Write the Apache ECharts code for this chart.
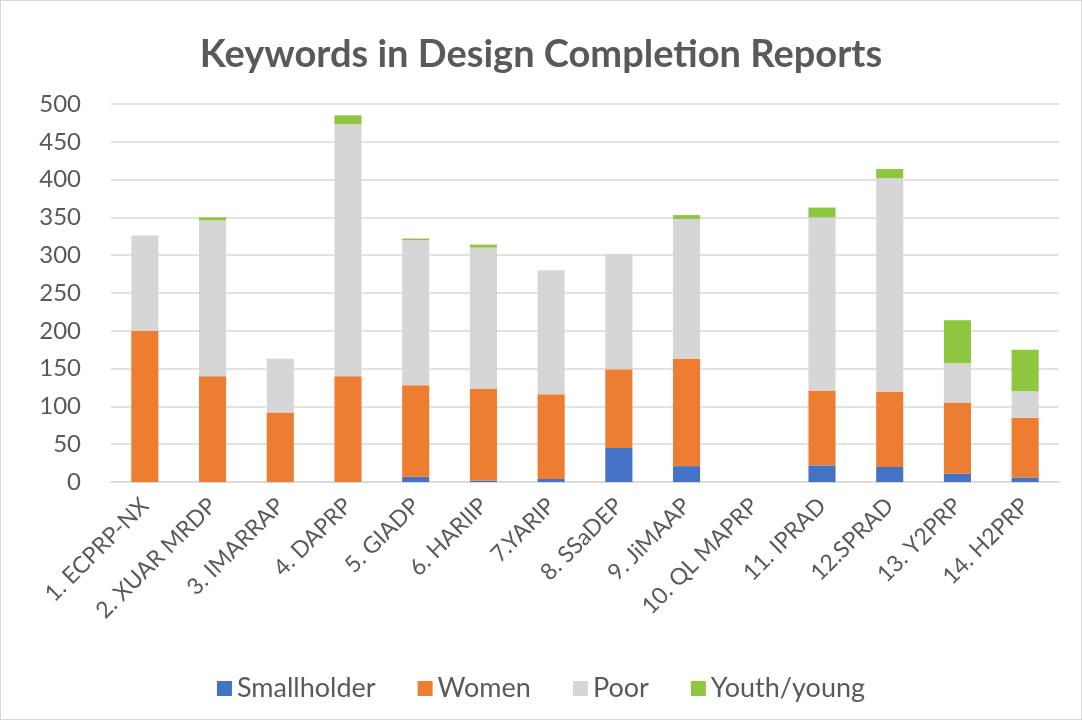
<!DOCTYPE html>
<html>
<head>
<meta charset="utf-8">
<script src="https://cdn.jsdelivr.net/npm/echarts@6/dist/echarts.min.js"></script>
<style>
  html, body { margin: 0; padding: 0; background: #fff; }
  #chart { width: 1080px; height: 718px; border: 1px solid #d9d9d9; }
</style>
</head>
<body>
<div id="chart"></div>
<script>
// project names
const categories = ['1. ECPRP-NX', '2. XUAR MRDP', '3. IMARRAP', '4. DAPRP', '5. GIADP', '6. HARIIP', '7.YARIP',
  '8. SSaDEP', '9. JiMAAP', '10. QL MAPRP', '11. IPRAD', '12.SPRAD', '13. Y2PRP', '14. H2PRP']

// keyword counts
const smallholder = [0, 0, 0, 0, 7, 2, 4, 45, 21, 0, 22, 20, 11, 6]
const women = [200, 140, 92, 140, 121, 121, 112, 104, 142, 0, 99, 99, 94, 79]
const poor = [126, 206, 71, 333, 192, 187, 164, 153, 185, 0, 229, 283, 52, 35]
const youth = [0, 4, 0, 12, 2, 4, 0, 0, 5, 0, 13, 12, 57, 55]

const yTicks = [0, 500, 50]

const font = 'Lato, "Open Sans", sans-serif'
const textColor = '#595959'

var myChart = echarts.init(document.getElementById('chart'))

function bar(name, data, color) {
    return {
        name: name,
        type: 'bar',
        stack: 'Total',
        barWidth: '40%',
        itemStyle: { color: color },
        data: data
    }
}

var option = {
    animation: false,
    textStyle: { fontFamily: font },
    title: {
        text: 'Keywords in Design Completion Reports',
        left: 'center',
        top: 30,
        textStyle: { fontFamily: font, fontSize: 38, fontWeight: 'bold', color: textColor }
    },
    legend: {
        bottom: 12,
        left: 'center',
        itemWidth: 15,
        itemHeight: 15,
        itemGap: 42,
        icon: 'rect',
        textStyle: { fontFamily: font, fontSize: 27, color: textColor },
        data: ['Smallholder', 'Women', 'Poor', 'Youth/young']
    },
    grid: {
        left: 110,
        right: 22,
        top: 103,
        bottom: 237
    },
    xAxis: {
        type: 'category',
        data: categories,
        axisLine: { lineStyle: { color: '#d9d9d9', width: 1.5 } },
        axisTick: { show: false },
        axisLabel: {
            rotate: 45,
            interval: 0,
            margin: 20,
            fontSize: 23,
            color: textColor,
            fontFamily: font
        }
    },
    yAxis: {
        type: 'value',
        min: yTicks[0],
        max: yTicks[1],
        interval: yTicks[2],
        axisLine: { show: false },
        axisTick: { show: false },
        splitLine: { lineStyle: { color: '#d9d9d9', width: 1.5 } },
        axisLabel: { fontSize: 24, color: textColor, margin: 30, fontFamily: font }
    },
    series: [
        bar('Smallholder', smallholder, '#4472C4'),
        bar('Women', women, '#ED7D31'),
        bar('Poor', poor, '#D6D6D6'),
        bar('Youth/young', youth, '#8DC63F')
    ]
}

myChart.setOption(option)
</script>
</body>
</html>
